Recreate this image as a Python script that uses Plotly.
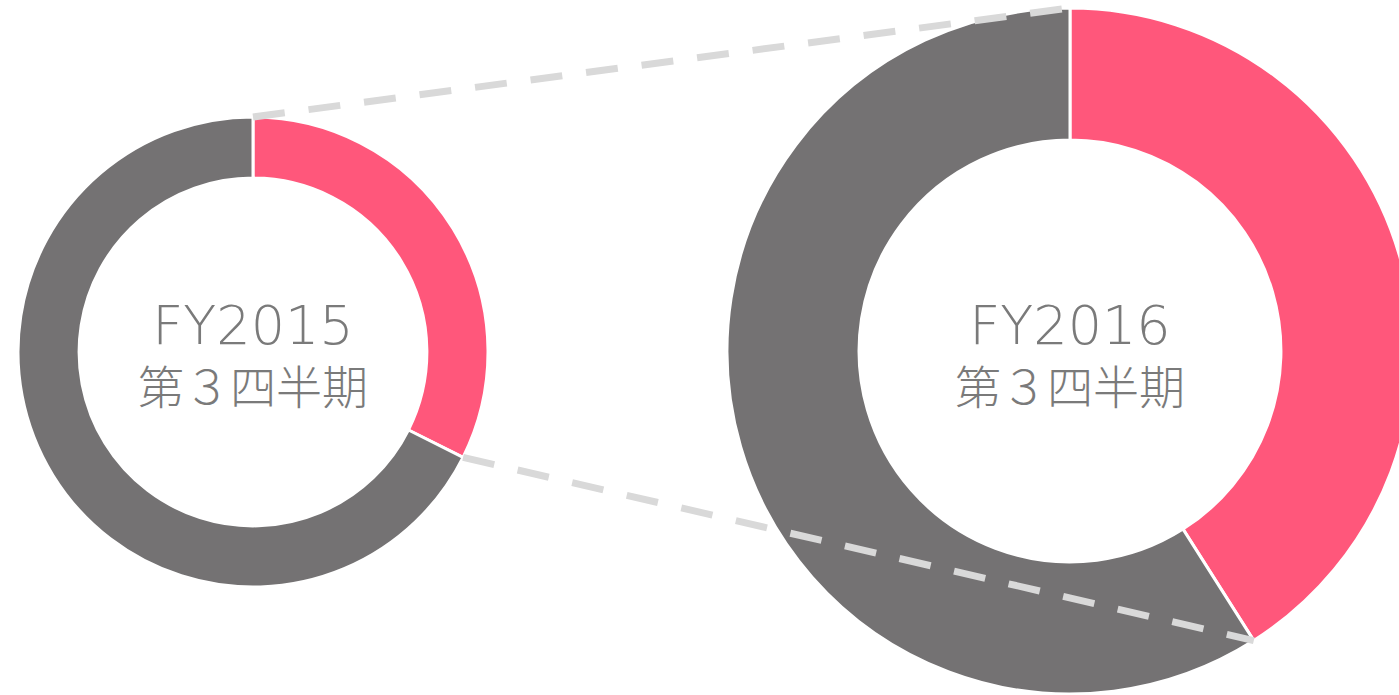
import math
import plotly.graph_objects as go

# ---- data ----
labels = ["対象", "その他"]
fy2015_values = [32.4, 67.6]
fy2016_values = [41.0, 59.0]
titles = ["FY2015", "FY2016"]
subtitle = "第３四半期"
colors = ["#FF577B", "#747273"]

# ---- canvas (right donut is clipped by the window) ----
W, H = 1420, 700

# pie geometry in pixels: (center x, center y, outer radius, hole)
left_geo = (253, 352, 235, 0.74)
right_geo = (1070, 351, 343, 0.615)


def domain(cx, cy, r):
    return dict(x=[(cx - r) / W, (cx + r) / W],
                y=[(H - (cy + r)) / H, (H - (cy - r)) / H])


fig = go.Figure()
for vals, geo in [(fy2015_values, left_geo), (fy2016_values, right_geo)]:
    cx, cy, r, hole = geo
    fig.add_trace(go.Pie(
        labels=labels, values=vals, hole=hole, sort=False,
        direction="clockwise", rotation=0,
        marker=dict(colors=colors, line=dict(color="white", width=3)),
        textinfo="none", hoverinfo="label+percent",
        domain=domain(cx, cy, r), showlegend=False,
    ))


def boundary_point(vals, geo):
    cx, cy, r, _ = geo
    a = 2 * math.pi * vals[0] / sum(vals)
    return cx + r * math.sin(a), cy - r * math.cos(a)


def top_point(geo):
    cx, cy, r, _ = geo
    return cx, cy - r


def to_paper(p):
    return p[0] / W, (H - p[1]) / H


lines = [
    (top_point(left_geo), top_point(right_geo)),
    (boundary_point(fy2015_values, left_geo), boundary_point(fy2016_values, right_geo)),
]
for p0, p1 in lines:
    a0, a1 = to_paper(p0), to_paper(p1)
    fig.add_shape(type="line", xref="paper", yref="paper",
                  x0=a0[0], y0=a0[1], x1=a1[0], y1=a1[1], layer="above",
                  line=dict(color="#D9D9D9", width=7, dash="32px,24px"))

cjk_font = "Noto Sans CJK JP, Noto Sans, sans-serif"
latin_font = "DejaVu Sans"
for title, geo in [(titles[0], left_geo), (titles[1], right_geo)]:
    cx, cy, r, _ = geo
    text = (f"<span style='font-family:{latin_font};font-size:54px;font-weight:200'>{title}</span>"
            f"<br>{subtitle}")
    fig.add_annotation(x=cx / W, y=(H - 355) / H, xref="paper", yref="paper",
                       text=text, showarrow=False, xanchor="center", yanchor="middle",
                       font=dict(family=cjk_font, size=46, color="#7A7A7A", weight=300))

fig.update_layout(width=W, height=H, margin=dict(l=0, r=0, t=0, b=0),
                  paper_bgcolor="white", plot_bgcolor="white")

fig.write_html("out.html", config={"displayModeBar": False}, post_script=(
    "document.body.style.margin='0';"
    "document.body.style.overflow='hidden';"
    "document.documentElement.style.overflow='hidden';"))
